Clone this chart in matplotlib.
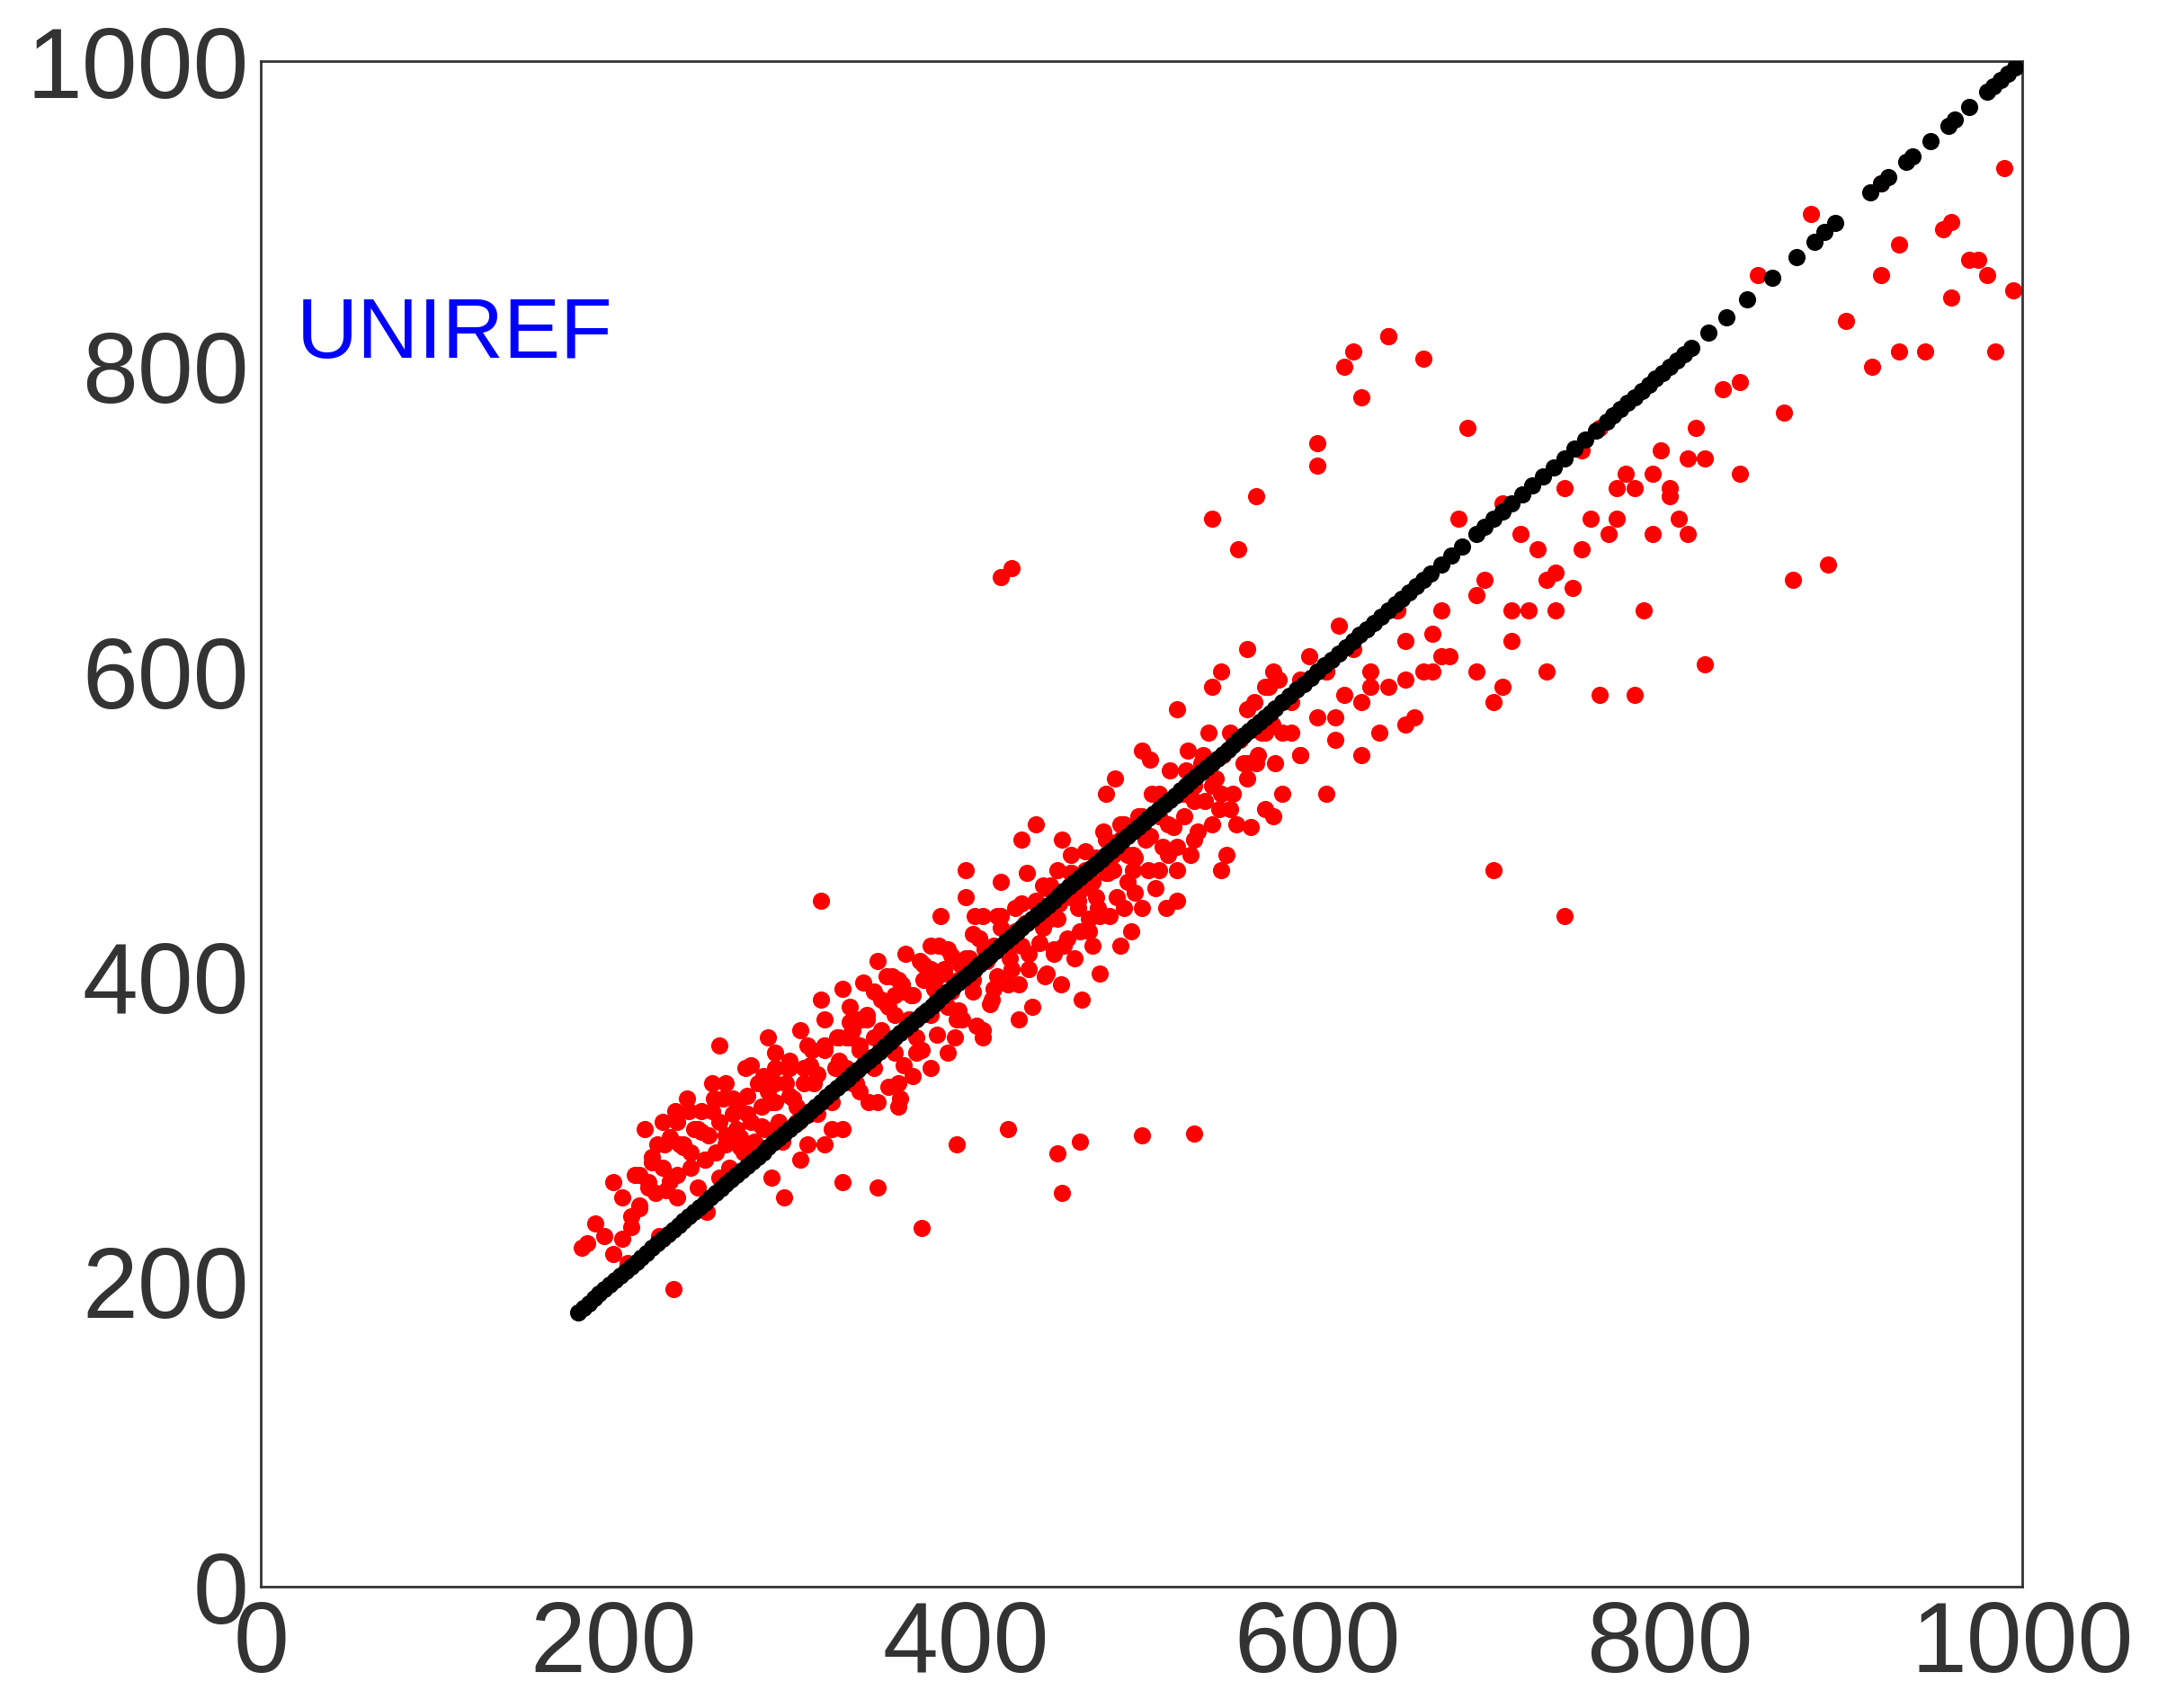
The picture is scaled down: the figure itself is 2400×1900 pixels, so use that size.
import matplotlib
matplotlib.use("Agg")
import matplotlib.pyplot as plt

# black points: y = x reference points (x values)
black_x = [180,183,186,189,192,195,198,201,204,207,210,213,216,219,222,225,228,231,234,237,240,243,246,249,252,255,258,261,264,267,270,273,276,279,282,285,288,291,294,297,300,303,306,309,312,315,318,321,324,327,330,333,336,339,342,345,348,351,354,357,360,363,366,369,372,375,378,381,384,387,390,393,396,399,402,405,408,411,414,417,420,423,426,429,432,435,438,441,444,447,450,453,456,459,462,465,468,471,474,477,480,483,486,489,492,495,498,501,504,507,510,513,516,519,522,525,528,531,534,537,540,543,546,549,552,555,558,561,564,567,570,573,576,580,584,588,592,596,600,604,608,612,616,620,624,628,632,636,640,644,648,652,656,660,664,670,676,682,690,695,700,705,710,716,722,728,734,740,746,752,758,764,768,772,776,780,784,788,792,796,800,804,808,812,822,832,844,858,872,882,888,894,914,920,924,934,938,948,958,962,970,980,984,988,992,996]
black_y = list(black_x)

# red points (x, y)
red_x = [182,185,190,195,200,205,208,210,212,215,218,220,222,225,226,228,230,232,235,236,238,240,242,244,246,248,250,252,254,256,258,260,262,264,266,268,270,272,274,276,278,280,282,284,286,288,290,292,294,296,298,300,302,304,306,308,310,312,314,316,318,320,322,324,326,328,330,332,334,336,338,340,342,344,346,348,350,352,354,356,358,360,362,364,366,368,370,372,374,376,378,380,382,384,386,388,390,392,394,396,398,400,402,404,406,408,410,412,414,416,418,420,422,424,426,428,430,432,434,436,438,440,442,444,446,448,450,452,454,456,458,460,462,464,466,468,470,472,474,476,478,480,482,484,486,488,490,492,494,496,498,500,502,504,506,508,510,512,514,516,518,520,522,524,526,528,530,532,534,536,538,540,542,544,546,548,550,552,554,556,558,560,562,564,566,568,570,572,574,576,578,580,585,590,595,600,605,610,615,620,625,630,635,640,645,650,655,660,665,670,675,680,690,695,700,705,710,715,720,725,730,735,740,745,750,755,760,765,770,775,780,785,790,795,800,805,810,815,820,830,840,850,865,880,900,915,920,930,945,960,970,980,990,995,
         200,205,210,215,220,224,228,232,236,240,244,248,252,256,260,264,268,272,276,280,284,288,292,296,300,304,308,312,316,320,324,328,332,336,340,344,348,352,356,360,364,368,372,376,380,384,388,392,396,400,404,408,412,416,420,424,428,432,436,440,444,448,452,456,460,464,468,472,476,480,484,488,492,496,500,505,510,515,520,525,530,535,540,
         215,222,229,236,243,250,257,264,271,278,285,292,299,306,313,320,327,334,341,348,355,362,369,376,383,390,397,404,411,418,425,432,439,446,453,460,467,474,481,488,495,
         234,318,420,426,297,350,375,455,500,530,395,452,330,290,253,363,424,465,520,545,560,600,620,640,605,615,625,650,590,575,560,570,
         300,310,320,330,340,350,360,370,380,390,400,410,420,430,440,450,460,470,480,490,500,510,520,530,540,550,560,570,580,590,610,630,650,670,690,710,730,750,770,790,810,
         320,335,345,355,365,375,385,395,405,415,425,435,445,455,465,475,485,495,505,515,525,545,565,585,605,625,645,665,
         700,740,760,780,800,820,840,870,890,930,960,985,920,955,975,
         540,555,565,600,612,640,660,685,705,735,545,575,260,275,292,305,340,362,380,410]
red_y = [222,225,238,230,265,255,212,243,270,248,300,262,278,290,230,305,260,295,312,270,290,288,320,275,300,262,312,280,296,330,285,305,320,290,275,310,300,295,285,322,305,290,330,315,300,360,318,340,305,292,330,345,320,305,280,330,355,342,330,310,385,355,320,300,340,360,392,340,370,365,330,352,396,375,345,360,410,385,355,328,400,375,330,395,415,372,388,350,410,376,398,420,392,362,440,402,380,414,360,398,372,452,412,390,368,425,440,410,382,420,400,462,418,395,405,430,395,490,435,415,380,448,422,460,402,438,418,470,395,455,425,480,412,445,385,470,438,420,452,402,495,468,440,480,452,420,500,462,430,478,505,445,490,470,520,458,505,485,445,535,498,470,520,505,548,480,525,495,540,515,560,500,530,510,545,480,560,520,500,555,540,575,498,580,545,560,510,590,565,540,595,560,580,545,610,570,600,570,585,615,545,600,560,590,640,620,570,600,625,640,610,700,650,660,580,710,620,690,640,680,600,665,720,655,745,700,760,690,720,730,720,640,690,745,720,700,740,760,740,785,790,860,770,900,830,800,920,880,810,895,870,860,930,850,
         218,228,236,250,265,258,275,266,255,290,285,300,280,312,268,296,320,288,310,292,302,325,318,300,322,315,340,310,336,352,318,345,360,330,355,372,340,365,380,350,390,372,360,398,375,385,405,390,378,412,398,425,410,392,432,418,445,420,405,450,432,460,438,420,468,450,482,462,440,490,470,500,480,455,505,492,520,500,485,535,515,545,525,
         270,282,290,305,312,298,320,330,318,342,335,350,340,365,352,372,360,380,372,390,382,398,388,408,398,418,408,428,418,440,428,448,438,458,448,468,458,478,468,490,480,
         195,450,662,668,255,262,235,258,296,297,290,284,265,268,246,320,300,292,450,470,530,750,810,820,520,800,780,595,595,600,615,590,
         340,290,355,300,372,318,388,335,405,350,470,365,440,372,500,415,452,430,520,445,548,470,575,490,590,510,540,560,520,545,555,590,565,610,600,640,660,680,700,730,690,
         290,360,318,400,342,352,420,372,440,385,412,468,400,490,430,445,530,470,542,480,520,600,540,560,600,580,640,600,
         470,440,585,585,715,605,730,660,670,810,845,810,860,890,870,
         700,680,715,735,630,820,805,760,590,640,520,505,355,340,330,305,325,315,340,360]

fig = plt.figure(figsize=(24, 19), dpi=100)
ax = fig.add_axes([0.121, 0.071, 0.816, 0.893])
ax.scatter(red_x, red_y, s=190, color='red', linewidths=0, zorder=2)
ax.scatter(black_x, black_y, s=190, color='black', linewidths=0, zorder=3)
ax.set_xlim(0, 1000)
ax.set_ylim(0, 1000)
ax.set_xticks([0, 200, 400, 600, 800, 1000])
ax.set_yticks([0, 200, 400, 600, 800, 1000])
ax.tick_params(labelsize=80, colors='#333333', length=0, pad=10)
for lab in ax.get_xticklabels() + ax.get_yticklabels():
    lab.set_family('Liberation Sans')
for s in ax.spines.values():
    s.set_color('#333333')
    s.set_linewidth(2)
ax.text(20, 820, 'UNIREF', color='blue', fontsize=68, va='center', ha='left', family='Liberation Sans')
fig.savefig('out.png', dpi=100)
